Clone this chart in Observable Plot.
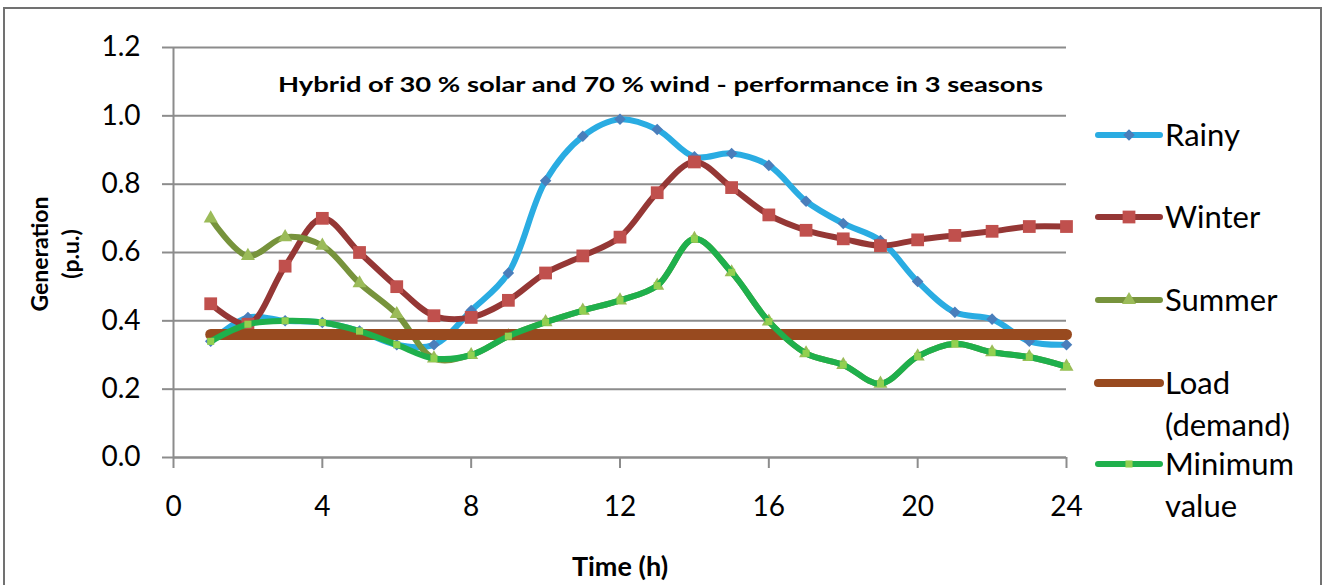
<!DOCTYPE html>
<html>
<head>
<meta charset="utf-8">
<script src="https://cdn.jsdelivr.net/npm/d3@7"></script>
<script src="https://cdn.jsdelivr.net/npm/@observablehq/plot@0.6"></script>
<style>
  html, body { margin: 0; padding: 0; background: #fff; overflow: hidden; }
  #wrap { position: relative; width: 1327px; height: 585px; overflow: hidden; }
  #frame { position: absolute; left: 3px; top: 7px; width: 1319px; height: 700px;
           border: 2px solid #717171; box-sizing: border-box; pointer-events: none; }
  #chart { position: absolute; left: 0; top: 0; }
</style>
</head>
<body>
<div id="wrap">
  <div id="chart"></div>
  <div id="frame"></div>
</div>
<script>
// Hourly generation (p.u.) of a 30 % solar / 70 % wind hybrid
const hours = [1, 2, 3, 4, 5, 6, 7, 8, 9, 10, 11, 12, 13, 14, 15, 16, 17, 18, 19, 20, 21, 22, 23, 24];
const rainy = [0.34, 0.41, 0.40, 0.395, 0.37, 0.33, 0.33, 0.43, 0.54, 0.81, 0.94, 0.99, 0.96, 0.88, 0.89, 0.855, 0.75, 0.685, 0.635, 0.515, 0.425, 0.405, 0.34, 0.33];
const winter = [0.45, 0.39, 0.56, 0.70, 0.60, 0.50, 0.415, 0.41, 0.46, 0.54, 0.59, 0.645, 0.775, 0.865, 0.79, 0.71, 0.665, 0.64, 0.62, 0.637, 0.65, 0.662, 0.676, 0.676];
const summer = [0.70, 0.59, 0.645, 0.62, 0.51, 0.42, 0.29, 0.30, 0.355, 0.396, 0.43, 0.46, 0.503, 0.64, 0.542, 0.398, 0.305, 0.271, 0.216, 0.296, 0.333, 0.308, 0.294, 0.266];
const load = [0.36, 0.36, 0.36, 0.36, 0.36, 0.36, 0.36, 0.36, 0.36, 0.36, 0.36, 0.36, 0.36, 0.36, 0.36, 0.36, 0.36, 0.36, 0.36, 0.36, 0.36, 0.36, 0.36, 0.36];
const minimum = [0.34, 0.39, 0.40, 0.395, 0.37, 0.33, 0.29, 0.30, 0.355, 0.396, 0.43, 0.46, 0.503, 0.64, 0.542, 0.398, 0.305, 0.271, 0.216, 0.296, 0.333, 0.308, 0.294, 0.266];

const xTicks = [0, 4, 8, 12, 16, 20, 24];
const yTicks = [0, 0.2, 0.4, 0.6, 0.8, 1.0, 1.2];

const titleText = "Hybrid of 30 % solar and 70 % wind - performance in 3 seasons";
const xLabel = "Time (h)";
const yLabelLines = ["Generation", "(p.u.)"];

// Series styling: line colour, marker symbol, marker fill, marker radius
const series = [
  {name: ["Rainy"], values: rainy, stroke: "#2aace2", width: 6, symbol: "diamond2", fill: "#4a7ebb", r: 5.2},
  {name: ["Winter"], values: winter, stroke: "#953735", width: 6, symbol: "square", fill: "#c0504d", r: 7.2},
  {name: ["Summer"], values: summer, stroke: "#77933c", width: 6, symbol: "triangle", fill: "#9bbb59", r: 5.2},
  {name: ["Load", "(demand)"], values: load, stroke: "#984a1f", width: 11, symbol: null},
  {name: ["Minimum", "value"], values: minimum, stroke: "#1fb04c", width: 6, symbol: "square", fill: "#92d050", r: 4}
];

const rows = s => hours.map((h, i) => ({h, v: s.values[i]}));
const gray = "#8c8c8c";
const font = "Lato, 'Open Sans', sans-serif";

const marks = [
  Plot.gridY(yTicks, {stroke: gray, strokeOpacity: 1, strokeWidth: 2}),
  Plot.axisY({ticks: yTicks, tickSize: 11, tickPadding: 22, tickFormat: d3.format(".1f"),
              stroke: gray, strokeWidth: 2, fontSize: 28, label: null}),
  Plot.axisX({ticks: xTicks, tickSize: 11, tickPadding: 28, stroke: gray, strokeWidth: 2,
              fontSize: 28, label: null}),
  Plot.ruleY([0], {stroke: gray, strokeWidth: 2}),
  Plot.ruleX([0], {stroke: gray, strokeWidth: 2})
];

for (const s of series) {
  const data = rows(s);
  marks.push(Plot.line(data, {x: "h", y: "v", stroke: s.stroke, strokeWidth: s.width,
    curve: s.symbol ? "catmull-rom" : "linear", strokeLinecap: "round", strokeLinejoin: "round"}));
  if (s.symbol) {
    marks.push(Plot.dot(data, {x: "h", y: "v", symbol: s.symbol, r: s.r, fill: s.fill, stroke: "none"}));
  }
}

const chart = Plot.plot({
  width: 1327,
  height: 585,
  marginLeft: 173,
  marginRight: 261,
  marginTop: 47,
  marginBottom: 128,
  x: {domain: [0, 24]},
  y: {domain: [0, 1.2]},
  style: {fontFamily: font, color: "#000", background: "transparent", overflow: "visible"},
  marks
});
document.getElementById("chart").append(chart);

// Title, axis titles and legend drawn into the same SVG
const svg = d3.select(chart);
svg.append("text")
  .attr("x", 278).attr("y", 92).attr("text-anchor", "start")
  .attr("textLength", 765).attr("lengthAdjust", "spacingAndGlyphs")
  .style("font", `bold 21px ${font}`).attr("fill", "#000")
  .text(titleText);

svg.append("text")
  .attr("x", 620).attr("y", 576).attr("text-anchor", "middle")
  .style("font", `bold 27px ${font}`).attr("fill", "#000")
  .text(xLabel);

yLabelLines.forEach((t, i) => {
  svg.append("text")
    .attr("transform", `translate(${48 + i * 31},254) rotate(-90)`)
    .attr("text-anchor", "middle")
    .style("font", `bold 23px ${font}`).attr("fill", "#000")
    .text(t);
});

const legendY = [135, 217, 300, 383, 464];
const sym = {diamond2: d3.symbolDiamond2, square: d3.symbolSquare, triangle: d3.symbolTriangle};
series.forEach((s, i) => {
  const g = svg.append("g").attr("transform", `translate(0,${legendY[i]})`);
  g.append("line").attr("x1", 1098).attr("x2", 1160).attr("y1", 0).attr("y2", 0)
    .attr("stroke", s.stroke).attr("stroke-width", s.width === 11 ? 8 : 6)
    .attr("stroke-linecap", "round");
  if (s.symbol) {
    g.append("path").attr("transform", "translate(1129,0)")
      .attr("d", d3.symbol(sym[s.symbol], Math.PI * s.r * s.r)())
      .attr("fill", s.fill);
  }
  s.name.forEach((t, j) => {
    g.append("text").attr("x", 1165).attr("y", j * 42).attr("dy", "0.36em")
      .attr("text-anchor", "start")
      .style("font", `31px ${font}`).attr("fill", "#000").text(t);
  });
});
</script>
</body>
</html>
